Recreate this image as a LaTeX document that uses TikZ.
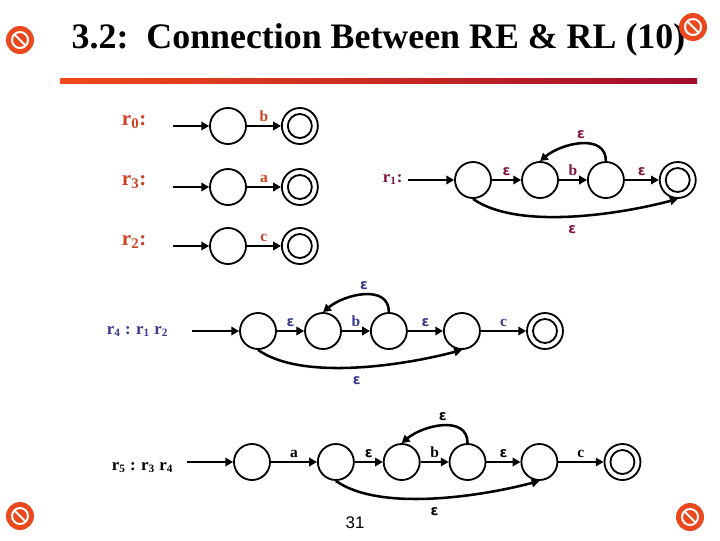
\documentclass[tikz,border=0pt]{standalone}
\usepackage{fontspec}
\setmainfont{Liberation Serif}
\setsansfont{Liberation Sans}
\newfontfamily\epsfont{DejaVu Sans}
\usepackage{xcolor}
\usepackage{tikz}
\usetikzlibrary{shapes,arrows.meta,positioning}

\definecolor{rowred}{RGB}{205,65,35}
\definecolor{darkred}{RGB}{130,20,60}
\definecolor{slateblue}{RGB}{55,55,140}
\definecolor{iconred}{RGB}{235,72,30}
\definecolor{lineorange}{RGB}{240,74,26}
\definecolor{linered}{RGB}{160,12,44}

\begin{document}
\begin{tikzpicture}[
    x=0.025cm, y=0.025cm,
    >={Triangle[length=5.5pt,width=6pt]},
    st/.style={circle, draw, line width=1.3pt, minimum size=0.9cm, inner sep=0pt},
    fin/.style={st, path picture={\draw[line width=1.3pt] (path picture bounding box.center) circle (0.3cm);}},
    trans/.style={->, line width=1.8pt},
    lbl/.style={font=\fontsize{11}{13}\selectfont\bfseries, inner sep=1pt, above=1.5pt},
    epsl/.style={font=\epsfont\fontsize{10}{12}\selectfont\bfseries, inner sep=1pt, above=1.5pt},
    rlab/.style={anchor=base west, font=\fontsize{15}{18}\selectfont\bfseries, text=rowred},
    rsm/.style={anchor=base west, font=\fontsize{12}{14}\selectfont\bfseries}
]
    \useasboundingbox (0,0) rectangle (720,-540);

    % title and rule
    \node[font=\fontsize{25.5}{30}\selectfont\bfseries, anchor=base] (title) at (378.5,-48) {3.2:\ \ Connection Between RE \& RL (10)};
    \shade[left color=lineorange, right color=linered] (60,-78) rectangle (697,-83);
    \foreach \p in {(20,-40),(693,-27),(20,-516),(690,-517)} {
        \fill[iconred] \p circle (14);
        \draw[white, line width=1.4pt] \p circle (8);
        \draw[white, line width=1.4pt] \p ++(-6,6) -- ++(12,-12);
    }

    % r0, r3, r2
    \node[rlab] (l0) at (117,-125) {r\textsubscript{0}:};
    \coordinate (s0) at (173,-126);
    \node[st] (q0) at (228,-126) {};
    \node[fin, right=0.85cm of q0] (f0) {};
    \draw[trans] (s0) -- (q0);
    \draw[trans] (q0) -- node[lbl, text=rowred] {b} (f0);

    \node[rlab] (l3) at (117,-185) {r\textsubscript{3}:};
    \coordinate (s3) at (173,-187);
    \node[st] (q3) at (228,-187) {};
    \node[fin, right=0.85cm of q3] (f3) {};
    \draw[trans] (s3) -- (q3);
    \draw[trans] (q3) -- node[lbl, text=rowred] {a} (f3);

    \node[rlab] (l2) at (117,-245) {r\textsubscript{2}:};
    \coordinate (s2) at (173,-246);
    \node[st] (q2) at (228,-246) {};
    \node[fin, right=0.85cm of q2] (f2) {};
    \draw[trans] (s2) -- (q2);
    \draw[trans] (q2) -- node[lbl, text=rowred] {c} (f2);

    % r1
    \node[rsm, text=darkred] (l1) at (378,-182) {r\textsubscript{1}:};
    \coordinate (s1) at (408,-180);
    \node[st] (p1) at (473,-180) {};
    \node[st, right=0.73cm of p1] (p2) {};
    \node[st, right=0.7cm of p2] (p3) {};
    \node[fin, right=0.85cm of p3] (pf) {};
    \draw[trans] (s1) -- (p1);
    \draw[trans] (p1) -- node[epsl, text=darkred] {ε} (p2);
    \draw[trans] (p2) -- node[lbl, text=darkred] {b} (p3);
    \draw[trans] (p3) -- node[epsl, text=darkred] {ε} (pf);
    \draw[trans] (p3.north) to[out=90, in=40, looseness=1.1] node[epsl, text=darkred] {ε} (p2.north);
    \draw[trans] (p1.south) to[out=-35, in=-165, looseness=0.7] node[epsl, below=5pt, text=darkred] {ε} (pf.south);

    % r4 = r1 r2
    \node[rsm, text=slateblue] (l4) at (102,-334) {r\textsubscript{4} : r\textsubscript{1} r\textsubscript{2}};
    \coordinate (s4) at (192,-331);
    \node[st] (u1) at (258,-331) {};
    \node[st, right=0.68cm of u1] (u2) {};
    \node[st, right=0.7cm of u2] (u3) {};
    \node[st, right=0.88cm of u3] (u4) {};
    \node[fin, right=1.13cm of u4] (uf) {};
    \draw[trans] (s4) -- (u1);
    \draw[trans] (u1) -- node[epsl, text=slateblue] {ε} (u2);
    \draw[trans] (u2) -- node[lbl, text=slateblue] {b} (u3);
    \draw[trans] (u3) -- node[epsl, text=slateblue] {ε} (u4);
    \draw[trans] (u4) -- node[lbl, text=slateblue] {c} (uf);
    \draw[trans] (u3.north) to[out=90, in=40, looseness=1.1] node[epsl, text=slateblue] {ε} (u2.north);
    \draw[trans] (u1.south) to[out=-35, in=-165, looseness=0.7] node[epsl, below=5pt, text=slateblue] {ε} (u4.south);

    % r5 = r3 r4
    \node[rsm] (l5) at (107,-470) {r\textsubscript{5} : r\textsubscript{3} r\textsubscript{4}};
    \coordinate (s5) at (187,-462);
    \node[st] (v1) at (252,-462) {};
    \node[st, right=1.15cm of v1] (v2) {};
    \node[st, right=0.7cm of v2] (v3) {};
    \node[st, right=0.7cm of v3] (v4) {};
    \node[st, right=0.85cm of v4] (v5) {};
    \node[fin, right=1.13cm of v5] (vf) {};
    \draw[trans] (s5) -- (v1);
    \draw[trans] (v1) -- node[lbl] {a} (v2);
    \draw[trans] (v2) -- node[epsl] {ε} (v3);
    \draw[trans] (v3) -- node[lbl] {b} (v4);
    \draw[trans] (v4) -- node[epsl] {ε} (v5);
    \draw[trans] (v5) -- node[lbl] {c} (vf);
    \draw[trans] (v4.north) to[out=90, in=40, looseness=1.1] node[epsl] {ε} (v3.north);
    \draw[trans] (v2.south) to[out=-35, in=-165, looseness=0.7] node[epsl, below=5pt] {ε} (v5.south);

    \node[font=\sffamily\fontsize{12}{14}\selectfont] (pg) at (355,-523) {31};
\end{tikzpicture}
\end{document}
